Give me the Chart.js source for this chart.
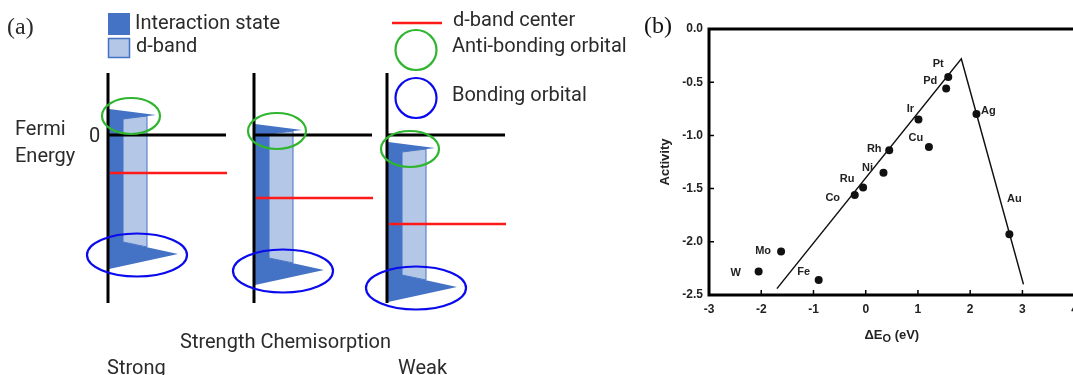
<!DOCTYPE html>
<html>
<head>
<meta charset="utf-8">
<script src="https://cdn.jsdelivr.net/npm/chart.js@4"></script>
<style>
  html, body { margin: 0; padding: 0; background: #fff; overflow: hidden; width: 1073px; height: 375px; }
  #schematic { position: absolute; left: 0; top: 0; }
  #volcano { position: absolute; left: 640px; top: 0; }
</style>
</head>
<body>
<canvas id="schematic" width="640" height="375"></canvas>
<canvas id="volcano" width="445" height="375"></canvas>
<script>
// ---- panel (a): d-band schematic, energies relative to the Fermi level ----
const strengthLabels = ["Strong", "Weak"];
const antiBondingPeak = [0.80, 0.20, -0.52];
const dBandCenter = [-1.52, -2.52, -3.56];
const bondingPeak = [-4.76, -5.40, -6.08];

// ---- panel (b): volcano plot ----
const metals = ["W", "Mo", "Fe", "Co", "Ru", "Ni", "Rh", "Ir", "Cu", "Pd", "Pt", "Ag", "Au"];
const deltaEO = [-2.05, -1.62, -0.90, -0.21, -0.05, 0.34, 0.45, 1.01, 1.21, 1.54, 1.58, 2.12, 2.75];
const activity = [-2.28, -2.09, -2.36, -1.56, -1.49, -1.35, -1.14, -0.85, -1.11, -0.56, -0.45, -0.80, -1.93];
const volcanoX = [-1.70, 1.83, 3.02];
const volcanoY = [-2.44, -0.28, -2.40];
const xTicks = [-3, -2, -1, 0, 1, 2, 3, 4];
const yTicks = [0, -0.5, -1.0, -1.5, -2.0, -2.5];

// layout / style only
const panelX = [108, 254, 387];
const labelShift = [[-23, 1], [-18, 0], [-15, -8], [-22, 3], [-16, -9], [-16, -5], [-15, -1],
                    [-8, -10], [-13, -9], [-16, -8], [-10, -13], [12, -3], [5, -35]];
const DARK = "#4472c4", LIGHT = "#b4c7e7", TXT = "#2b2b2b";
const SANS = "Roboto, 'Noto Sans', sans-serif";


function ellipse(ctx, cx, cy, rx, ry, color) {
  ctx.beginPath();
  ctx.ellipse(cx, cy, rx, ry, 0, 0, Math.PI * 2);
  ctx.strokeStyle = color;
  ctx.lineWidth = 2.2;
  ctx.stroke();
}

function poly(ctx, pts) {
  ctx.beginPath();
  pts.forEach((p, i) => i ? ctx.lineTo(p[0], p[1]) : ctx.moveTo(p[0], p[1]));
  ctx.closePath();
}

const bandsPlugin = {
  id: "bands",
  beforeDatasetsDraw(chart) {
    const ctx = chart.ctx, xs = chart.scales.x, ys = chart.scales.y;
    ctx.save();
    panelX.forEach((x0, i) => {
      const px = xs.getPixelForValue(x0);
      const yA = ys.getPixelForValue(antiBondingPeak[i]);
      const yB = ys.getPixelForValue(bondingPeak[i]);
      // interaction state
      poly(ctx, [[px + 1, yA - 6], [px + 48, yA], [px + 15, yA + 4], [px + 15, yB - 12],
                 [px + 70, yB], [px + 1, yB + 15]]);
      ctx.fillStyle = DARK;
      ctx.fill();
      // d-band
      poly(ctx, [[px + 15, yA + 4], [px + 39, yA + 1], [px + 39, yB - 7], [px + 15, yB - 12]]);
      ctx.fillStyle = LIGHT;
      ctx.fill();
      ctx.strokeStyle = DARK;
      ctx.lineWidth = 1;
      ctx.stroke();
      // axes
      ctx.strokeStyle = "#000";
      ctx.lineWidth = 3;
      ctx.beginPath();
      ctx.moveTo(px, ys.getPixelForValue(2.48));
      ctx.lineTo(px, ys.getPixelForValue(-6.72));
      ctx.moveTo(px - 1, ys.getPixelForValue(0));
      ctx.lineTo(px + 118, ys.getPixelForValue(0));
      ctx.stroke();
    });
    ctx.restore();
  },
  afterDatasetsDraw(chart) {
    const ctx = chart.ctx, xs = chart.scales.x, ys = chart.scales.y;
    ctx.save();
    panelX.forEach((x0, i) => {
      const px = xs.getPixelForValue(x0);
      const yA = ys.getPixelForValue(antiBondingPeak[i]);
      const yB = ys.getPixelForValue(bondingPeak[i]);
      ellipse(ctx, px + 23, yA + 1, 29, 18, "#2fb52f");
      ellipse(ctx, px + 29, yB + 1, 50, 21.5, "#0a0aee");
    });

    // legend
    ctx.fillStyle = DARK;
    ctx.fillRect(108, 13, 22, 22);
    ctx.fillStyle = LIGHT;
    ctx.fillRect(108, 38, 22, 20);
    ctx.strokeStyle = DARK;
    ctx.lineWidth = 1.5;
    ctx.strokeRect(108.5, 38.5, 21, 19);
    ctx.strokeStyle = "#ff1a1a";
    ctx.lineWidth = 2.5;
    ctx.beginPath();
    ctx.moveTo(392, 23);
    ctx.lineTo(442, 23);
    ctx.stroke();
    ellipse(ctx, 416, 50, 20.5, 20, "#2fb52f");
    ellipse(ctx, 416, 98, 20.5, 20, "#0a0aee");

    ctx.fillStyle = TXT;
    ctx.font = "20px " + SANS;
    ctx.textBaseline = "middle";
    ctx.textAlign = "left";
    ctx.fillText("Interaction state", 135, 24);
    ctx.fillText("d-band", 136, 47);
    ctx.fillText("d-band center", 453, 21);
    ctx.fillText("Anti-bonding orbital", 452, 47);
    ctx.fillText("Bonding orbital", 452, 96);
    ctx.fillText("Fermi", 15, 130);
    ctx.fillText("Energy", 15, 157);
    ctx.fillText("0", 89, 137);
    ctx.fillText("Strength Chemisorption", 180, 343);
    ctx.fillText(strengthLabels[0], 107, 369);
    ctx.fillText(strengthLabels[1], 398, 369);

    ctx.font = "24px 'Liberation Serif', serif";
    ctx.fillText("(a)", 7, 28);
    ctx.restore();
  }
};

new Chart(document.getElementById("schematic"), {
  type: "line",
  data: {
    datasets: panelX.map((x0, i) => ({
      data: [{ x: x0 + 2, y: dBandCenter[i] }, { x: x0 + 119, y: dBandCenter[i] }],
      borderColor: "#ff1a1a",
      borderWidth: 2.5,
      pointRadius: 0
    }))
  },
  options: {
    responsive: false,
    animation: false,
    layout: { padding: 0 },
    plugins: { legend: { display: false }, tooltip: { enabled: false } },
    scales: {
      x: { type: "linear", min: 0, max: 640, display: false },
      y: { type: "linear", min: -9.6, max: 5.4, display: false }
    }
  },
  plugins: [bandsPlugin]
});


const tickFont = { family: "'Liberation Sans', Arial, sans-serif", size: 12, weight: "bold" };

const framePlugin = {
  id: "frame",
  afterDatasetsDraw(chart) {
    const ctx = chart.ctx, a = chart.chartArea, xs = chart.scales.x, ys = chart.scales.y;
    ctx.save();
    ctx.strokeStyle = "#000";
    ctx.lineWidth = 3;
    ctx.strokeRect(a.left, a.top, a.right - a.left, a.bottom - a.top);

    ctx.lineWidth = 1.5;
    ctx.beginPath();
    xTicks.forEach(v => {
      const p = xs.getPixelForValue(v);
      ctx.moveTo(p, a.bottom);
      ctx.lineTo(p, a.bottom - 5);
    });
    yTicks.forEach(v => {
      const p = ys.getPixelForValue(v);
      ctx.moveTo(a.left, p);
      ctx.lineTo(a.left + 5, p);
    });
    ctx.stroke();

    // metal labels
    ctx.fillStyle = "#222";
    ctx.font = "bold 11px 'Liberation Sans', Arial, sans-serif";
    ctx.textAlign = "center";
    ctx.textBaseline = "middle";
    metals.forEach((m, i) => {
      ctx.fillText(m, xs.getPixelForValue(deltaEO[i]) + labelShift[i][0],
                   ys.getPixelForValue(activity[i]) + labelShift[i][1]);
    });

    // axis titles
    ctx.font = "bold 13px 'Liberation Sans', Arial, sans-serif";
    ctx.save();
    ctx.translate(25, (a.top + a.bottom) / 2);
    ctx.rotate(-Math.PI / 2);
    ctx.fillText("Activity", 0, 0);
    ctx.restore();

    const cx = (a.left + a.right) / 2, ty = 335;
    ctx.textAlign = "left";
    const w1 = ctx.measureText("ΔE").width;
    ctx.font = "bold 11px 'Liberation Sans', Arial, sans-serif";
    const w2 = ctx.measureText("O").width;
    ctx.font = "bold 13px 'Liberation Sans', Arial, sans-serif";
    const w3 = ctx.measureText(" (eV)").width;
    let x = cx - (w1 + w2 + w3) / 2;
    ctx.fillText("ΔE", x, ty);
    ctx.font = "bold 11px 'Liberation Sans', Arial, sans-serif";
    ctx.fillText("O", x + w1, ty + 4);
    ctx.font = "bold 13px 'Liberation Sans', Arial, sans-serif";
    ctx.fillText(" (eV)", x + w1 + w2, ty);

    ctx.font = "24px 'Liberation Serif', serif";
    ctx.fillStyle = "#111";
    ctx.fillText("(b)", 4, 27);
    ctx.restore();
  }
};

new Chart(document.getElementById("volcano"), {
  type: "scatter",
  data: {
    datasets: [
      {
        type: "line",
        data: volcanoX.map((x, i) => ({ x: x, y: volcanoY[i] })),
        borderColor: "#111",
        borderWidth: 1.5,
        pointRadius: 0,
        fill: false,
        tension: 0
      },
      {
        data: deltaEO.map((x, i) => ({ x: x, y: activity[i] })),
        backgroundColor: "#111",
        borderWidth: 0,
        pointRadius: 4
      }
    ]
  },
  options: {
    responsive: false,
    animation: false,
    layout: { padding: { left: 0, top: 29, right: 9.5, bottom: 56 } },
    plugins: { legend: { display: false }, tooltip: { enabled: false } },
    scales: {
      x: {
        type: "linear", min: -3, max: 4,
        afterBuildTicks: s => { s.ticks = xTicks.map(v => ({ value: v })); },
        afterFit: s => { s.height = 24; },
        grid: { display: false, drawTicks: false },
        border: { display: false },
        ticks: { padding: 7, color: "#222", font: tickFont, autoSkip: false, maxRotation: 0,
                 callback: v => String(v) }
      },
      y: {
        type: "linear", min: -2.5, max: 0,
        afterBuildTicks: s => { s.ticks = yTicks.map(v => ({ value: v })); },
        afterFit: s => { s.width = 69; },
        grid: { display: false, drawTicks: false },
        border: { display: false },
        ticks: { padding: 6, color: "#222", font: tickFont, callback: v => v.toFixed(1) }
      }
    }
  },
  plugins: [framePlugin]
});
</script>
</body>
</html>
